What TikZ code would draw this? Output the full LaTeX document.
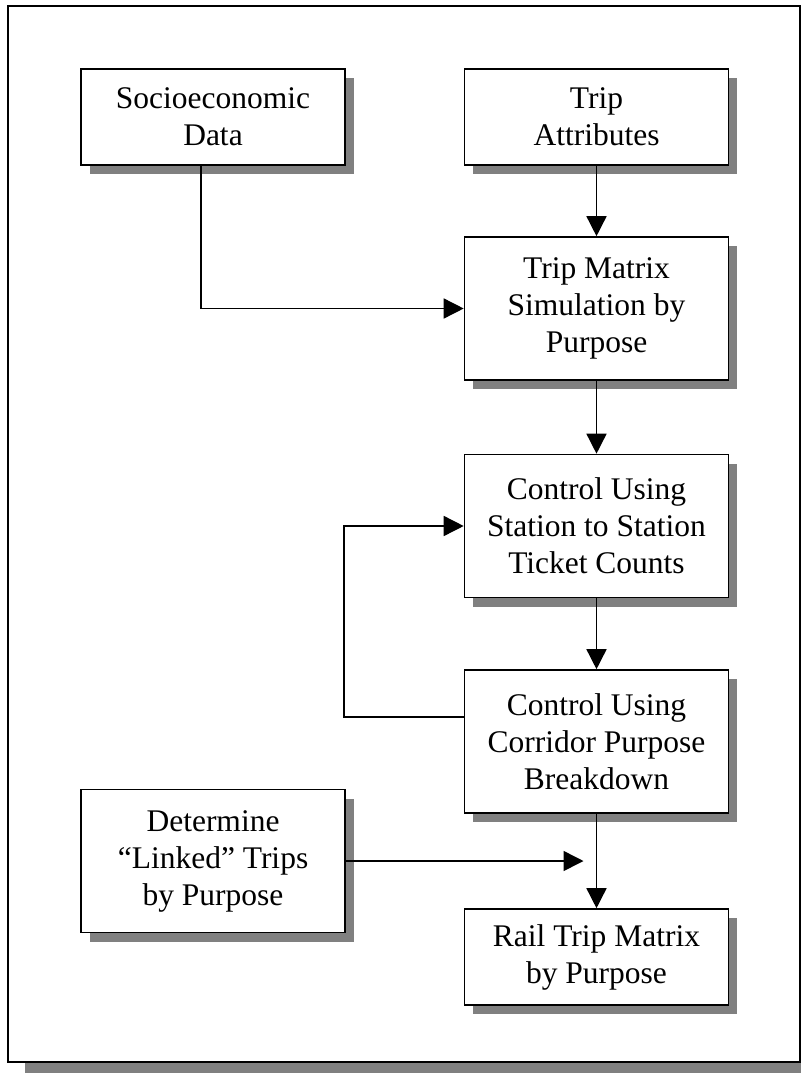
\documentclass[tikz,border=0pt]{standalone}
\usepackage{fontspec}
\setmainfont{Liberation Serif}
\usetikzlibrary{arrows.meta,shadows}
\tikzset{
  box/.style={draw=black, line width=1.6pt, fill=white, inner sep=0pt,
    minimum width=264pt, align=center,
    font=\fontsize{31.5}{37}\selectfont,
    drop shadow={shadow xshift=8.5pt, shadow yshift=-9pt, fill=black!50, opacity=1}},
  twoline/.style={minimum height=96pt},
  threeline/.style={minimum height=143pt},
  arr/.style={line width=1.5pt, -{Triangle[length=20pt,width=20pt]}},
  frame/.style={draw=black, line width=2pt, fill=white},
  frameshadow/.style={fill=black!50, draw=none}
}
\begin{document}
\begin{tikzpicture}[x=1pt,y=-1pt]
\useasboundingbox (0,0) rectangle (801,1073);
\fill[frameshadow] (25,23) rectangle (801,1073);
\draw[frame] (8,6) rectangle (800,1062);

\node[box,twoline]   (socio)  at (213,117)   {Socioeconomic\\Data};
\node[box,twoline]   (attr)   at (596.5,117) {Trip\\Attributes};
\node[box,threeline] (matrix) at (596.5,308.5) {Trip Matrix\\Simulation by\\Purpose};
\node[box,threeline] (ctrla)  at (596.5,526) {Control Using\\Station to Station\\Ticket Counts};
\node[box,threeline] (ctrlb)  at (596.5,741.5) {Control Using\\Corridor Purpose\\Breakdown};
\node[box,threeline] (linked) at (213,861)   {Determine\\“Linked” Trips\\by Purpose};
\node[box,twoline]   (rail)   at (596.5,957) {Rail Trip Matrix\\by Purpose};

\coordinate (linkend) at ([xshift=-13pt]ctrlb.south |- linked.east);

\draw[arr] ([xshift=-12pt]socio.south) |- (matrix.west);
\draw[arr] (attr.south) -- (matrix.north);
\draw[arr] (matrix.south) -- (ctrla.north);
\draw[arr] (ctrla.south) -- (ctrlb.north);
\draw[arr] ([yshift=24.5pt]ctrlb.west) -- ++(-119.5,0) |- (ctrla.west);
\draw[arr] (ctrlb.south) -- (rail.north);
\draw[arr] (linked.east) -- (linkend);
\end{tikzpicture}
\end{document}
